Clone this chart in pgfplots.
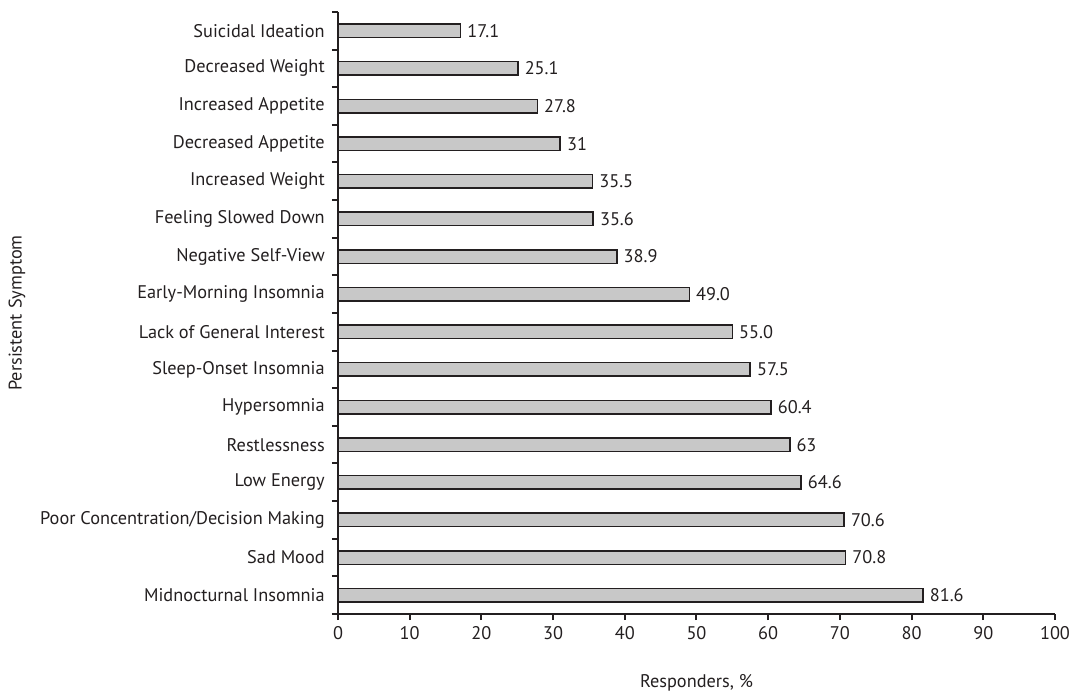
\documentclass[border=0pt]{standalone}
\usepackage{pgfplots}
\pgfplotsset{compat=1.18}
\usepackage{pgfplotstable}
\usepackage{fontspec}
\setmainfont{PT Sans}

\definecolor{barfill}{HTML}{C8C8C8}
\definecolor{ink}{HTML}{231F20}

% bottom to top
\pgfplotstableread[col sep=comma]{
y,val,lab
0,81.6,81.6
1,70.8,70.8
2,70.6,70.6
3,64.6,64.6
4,63,63
5,60.4,60.4
6,57.5,57.5
7,55.0,55.0
8,49.0,49.0
9,38.9,38.9
10,35.6,35.6
11,35.5,35.5
12,31,31
13,27.8,27.8
14,25.1,25.1
15,17.1,17.1
}\symptoms

\begin{document}
\begin{tikzpicture}
\fontsize{18.3bp}{21bp}\selectfont
\begin{axis}[
  at={(0,0)}, anchor=south west,
  scale only axis,
  width=717bp, height=602bp,
  xmin=0, xmax=100,
  ymin=-0.5, ymax=15.5,
  axis lines*=left,
  axis line style={draw=ink, line width=2bp},
  xtick={0,10,...,100},
  ytick={-0.5,0.5,...,15.5},
  yticklabels={},
  extra y ticks={0,...,15},
  extra y tick labels={Midnocturnal Insomnia, Sad Mood, Poor Concentration/Decision Making, Low Energy, Restlessness, Hypersomnia, Sleep-Onset Insomnia, Lack of General Interest, Early-Morning Insomnia, Negative Self-View, Feeling Slowed Down, Increased Weight, Decreased Appetite, Increased Appetite, Decreased Weight, Suicidal Ideation},
  extra y tick style={major tick length=0pt, yticklabel style={xshift=-7bp}},
  tick align=outside,
  major tick length=6bp,
  tick style={draw=ink, line width=2bp},
  tick label style={font=\fontsize{18.3bp}{21bp}\selectfont, text=ink},
  /pgf/number format/assume math mode=true,
  xlabel={Responders, \%},
  ylabel={Persistent Symptom},
  xlabel style={at={(axis description cs:0.5,-0.1146)}, anchor=center, font=\fontsize{18.3bp}{21bp}\selectfont, text=ink},
  ylabel style={at={(axis description cs:-0.4477,0.5)}, anchor=center, rotate=0, font=\fontsize{18.3bp}{21bp}\selectfont, text=ink},
  clip=false,
]
\addplot[
  xbar, bar width=13.5bp,
  fill=barfill, draw=ink, line width=1.6bp,
  point meta=explicit symbolic,
  nodes near coords,
  nodes near coords style={anchor=west, inner sep=2bp, xshift=4bp, font=\fontsize{18.3bp}{21bp}\selectfont, text=ink},
] table[x=val, y=y, meta=lab, col sep=comma] {\symptoms};
\end{axis}
\pgfresetboundingbox
\path[use as bounding box] (-338bp,-80bp) rectangle (735bp,614bp);
\end{tikzpicture}
\end{document}
